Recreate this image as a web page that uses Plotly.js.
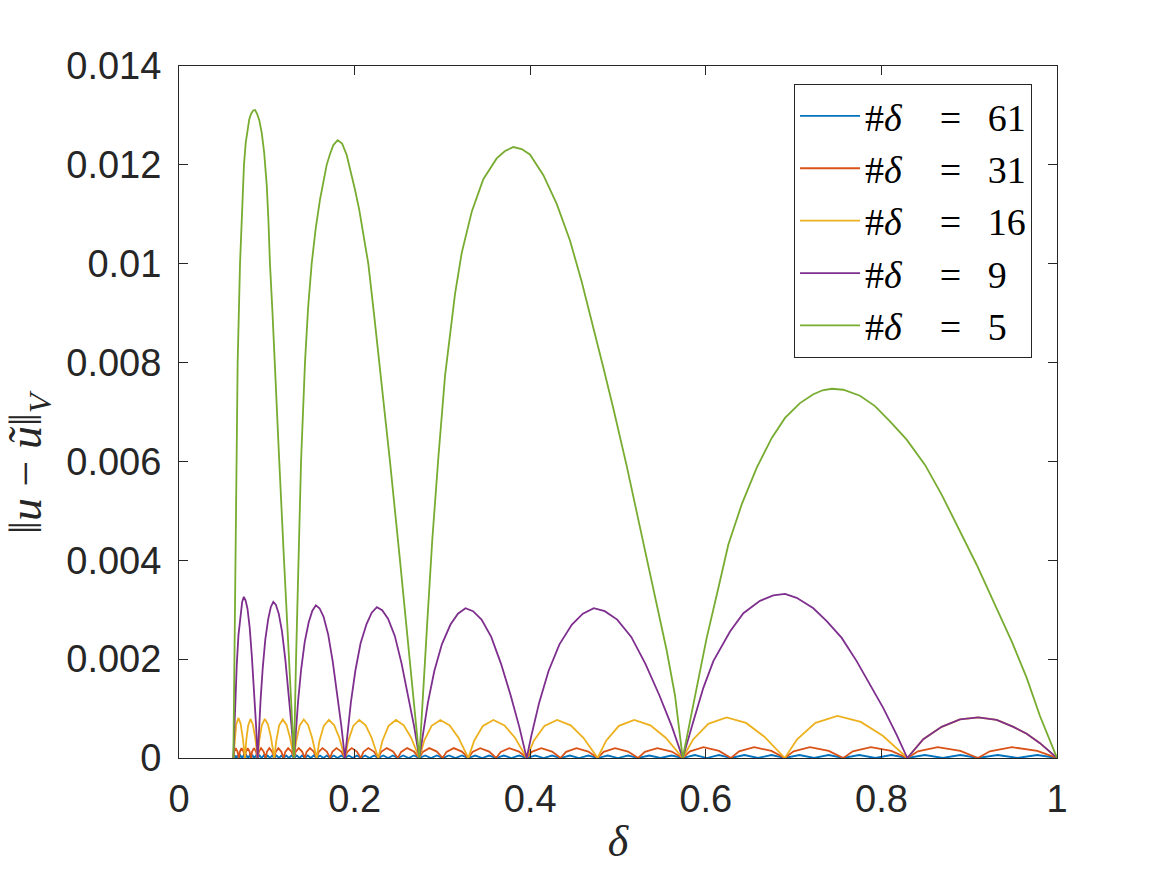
<!DOCTYPE html>
<html>
<head>
<meta charset="utf-8">
<script src="https://cdn.plot.ly/plotly-3.0.1.min.js"></script>
<style>html,body{margin:0;padding:0;background:#fff;}#chart{width:1167px;height:875px;}</style>
</head>
<body>
<div id="chart"></div>
<script>
// ---- data ----
const seriesNames = [
  '#<i>δ</i>\u2003=\u2002\u200961',
  '#<i>δ</i>\u2003=\u2002\u200931',
  '#<i>δ</i>\u2003=\u2002\u200916',
  '#<i>δ</i>\u2003=\u2002\u20099',
  '#<i>δ</i>\u2003=\u2002\u20095'
];
const seriesColors = ['#0072BD', '#D95319', '#EDB120', '#7E2F8E', '#77AC30'];

const xTickVals = [0, 0.2, 0.4, 0.6, 0.8, 1];
const xTickText = ['0', '0.2', '0.4', '0.6', '0.8', '1'];
const yTickVals = [0, 0.002, 0.004, 0.006, 0.008, 0.010, 0.012, 0.014];
const yTickText = ['0', '0.002', '0.004', '0.006', '0.008', '0.01', '0.012', '0.014'];

// #delta = 5 (green)
const delta5 = [
  0.0619, 0.0632, 0.0646, 0.0656, 0.0668, 0.0695, 0.0718, 0.0740, 0.0760, 0.0778, 0.0800, 0.0820, 0.0845, 0.0866, 0.0890, 0.0915, 0.0942, 0.0970, 0.0999, 0.1018, 0.1036, 0.1065, 0.1093, 0.1142, 0.1196, 0.1249, 0.131,
  0.1333, 0.1359, 0.1390, 0.1435, 0.1470, 0.1511, 0.1556, 0.1606, 0.1645, 0.1682, 0.1720, 0.1758, 0.1807, 0.1858, 0.1910, 0.1957, 0.2004, 0.2052, 0.2099, 0.2156, 0.2220, 0.2282, 0.2343, 0.2403, 0.2517, 0.2631, 0.2737,
  0.2828, 0.2885, 0.2954, 0.3030, 0.3144, 0.3220, 0.3334, 0.3466, 0.3618, 0.3713, 0.3808, 0.3903, 0.3997, 0.4150, 0.4302, 0.4453, 0.4586, 0.4719, 0.4833, 0.4947, 0.5099, 0.5250, 0.5402, 0.5554, 0.5649, 0.5737,
  0.5858, 0.6010, 0.6143, 0.6257, 0.6409, 0.6579, 0.6750, 0.6902, 0.7073, 0.7225, 0.7330, 0.7434, 0.7566, 0.7756, 0.7927, 0.8098, 0.8288, 0.8497, 0.8686, 0.8876, 0.9085, 0.9294, 0.9484, 0.9655, 0.9806, 1.0
];
const err5 = [
  0, 0.0020, 0.0040, 0.0060, 0.0080, 0.0100, 0.0112, 0.0120, 0.01245, 0.01270, 0.01292, 0.01303, 0.01310, 0.01311, 0.01303, 0.01290, 0.01265, 0.01225, 0.0116, 0.0109, 0.0100, 0.0090, 0.0080, 0.0060, 0.0040, 0.0020, 0,
  0.0020, 0.0040, 0.0060, 0.0080, 0.0091, 0.0100, 0.0107, 0.0113, 0.01170, 0.0120, 0.01222, 0.01240, 0.0125, 0.01243, 0.0122, 0.01188, 0.0115, 0.0111, 0.0106, 0.0100, 0.0090, 0.0080, 0.0070, 0.0060, 0.0040, 0.0020, 0,
  0.00276, 0.00442, 0.00608, 0.00773, 0.00939, 0.01022, 0.01105, 0.01171, 0.01213, 0.01228, 0.01236, 0.01232, 0.01221, 0.01179, 0.01121, 0.01047, 0.00964, 0.00873, 0.00790, 0.00707, 0.00591, 0.00467, 0.00342, 0.00218, 0.00127, 0,
  0.00108, 0.00243, 0.00344, 0.00432, 0.00513, 0.00587, 0.00647, 0.00688, 0.00718, 0.00736, 0.00744, 0.00747, 0.00745, 0.00733, 0.00712, 0.00681, 0.00644, 0.00593, 0.00533, 0.00465, 0.00391, 0.00310, 0.00236, 0.00162, 0.00085, 0
];

// #delta = 9 (purple)
const delta9 = [
  0.0619, 0.0627, 0.0641, 0.0658, 0.0677, 0.0699, 0.0719, 0.0738, 0.0758, 0.0780, 0.0805, 0.0830, 0.0855, 0.0877, 0.0896,
  0.0908, 0.0929, 0.0954, 0.0983, 0.1016, 0.1045, 0.1074, 0.1103, 0.1136, 0.1173, 0.1211, 0.1248, 0.1281, 0.131,
  0.1327, 0.1356, 0.1391, 0.1432, 0.1478, 0.1519, 0.1559, 0.1600, 0.1646, 0.1699, 0.1751, 0.1803, 0.1849, 0.189,
  0.1915, 0.1958, 0.2009, 0.2068, 0.2136, 0.2195, 0.2254, 0.2314, 0.2381, 0.2458, 0.2534, 0.2610, 0.2678, 0.2737,
  0.2774, 0.2835, 0.2908, 0.2994, 0.3092, 0.3177, 0.3263, 0.3349, 0.3446, 0.3556, 0.3667, 0.3777, 0.3874, 0.396,
  0.4013, 0.4102, 0.4209, 0.4333, 0.4475, 0.4600, 0.4724, 0.4849, 0.4991, 0.5151, 0.5311, 0.5471, 0.5613, 0.5737,
  0.5858, 0.5972, 0.6086, 0.6276, 0.6428, 0.6617, 0.6769, 0.6902, 0.7035, 0.7225, 0.7377, 0.7548, 0.7718, 0.7870, 0.8022, 0.8174, 0.8295,
  0.8477, 0.8686, 0.8895, 0.9104, 0.9313, 0.9503, 0.9655, 0.9806, 1.0
];
const err9 = [
  0, 0.00049, 0.00121, 0.00189, 0.00248, 0.00290, 0.00315, 0.00326, 0.00319, 0.00302, 0.00264, 0.00205, 0.00137, 0.00068, 0,
  0.00047, 0.00117, 0.00183, 0.00240, 0.00281, 0.00305, 0.00316, 0.00310, 0.00292, 0.00256, 0.00199, 0.00133, 0.00066, 0,
  0.00046, 0.00114, 0.00179, 0.00235, 0.00275, 0.00298, 0.00309, 0.00303, 0.00286, 0.00250, 0.00195, 0.00130, 0.00065, 0,
  0.00046, 0.00113, 0.00177, 0.00232, 0.00271, 0.00294, 0.00305, 0.00299, 0.00282, 0.00247, 0.00192, 0.00128, 0.00064, 0,
  0.00045, 0.00112, 0.00176, 0.00230, 0.00270, 0.00292, 0.00303, 0.00297, 0.00280, 0.00245, 0.00191, 0.00127, 0.00064, 0,
  0.00045, 0.00112, 0.00176, 0.00230, 0.00270, 0.00292, 0.00303, 0.00297, 0.00280, 0.00245, 0.00191, 0.00127, 0.00064, 0,
  0.00074, 0.00142, 0.00196, 0.00256, 0.00293, 0.00318, 0.00329, 0.00332, 0.00324, 0.00303, 0.00277, 0.00243, 0.00196, 0.00148, 0.00101, 0.00047, 0,
  0.00038, 0.00063, 0.00078, 0.00082, 0.00077, 0.00063, 0.00049, 0.00030, 0
];

// #delta = 16 (yellow)
const delta16 = [
  0.0619, 0.0632, 0.0652, 0.0676, 0.0701, 0.0725, 0.0752,
  0.0766, 0.0788, 0.0814, 0.0841, 0.0867, 0.0896,
  0.0915, 0.0943, 0.0977, 0.1013, 0.1047, 0.1085,
  0.1108, 0.1141, 0.1182, 0.1225, 0.1265, 0.131,
  0.1336, 0.1375, 0.1421, 0.1470, 0.1516, 0.1568,
  0.1600, 0.1649, 0.1707, 0.1768, 0.1826, 0.189,
  0.1928, 0.1985, 0.2053, 0.2126, 0.2194, 0.227,
  0.2317, 0.2387, 0.2471, 0.2560, 0.2644, 0.2737,
  0.2793, 0.2877, 0.2977, 0.3083, 0.3183, 0.3295,
  0.3362, 0.3461, 0.3581, 0.3707, 0.3827, 0.396,
  0.4041, 0.4162, 0.4307, 0.4461, 0.4606, 0.4768,
  0.4865, 0.5010, 0.5185, 0.5369, 0.5543, 0.5737,
  0.5853, 0.6028, 0.6237, 0.6458, 0.6667, 0.690,
  0.7040, 0.7249, 0.7500, 0.7765, 0.8016, 0.8295,
  0.8477, 0.8686, 0.8895, 0.9104, 0.9313, 0.9503, 0.9655, 0.9806, 1.0
];
const err16 = [
  0, 0.00036, 0.00068, 0.00081, 0.00070, 0.00043, 0,
  0.00036, 0.00066, 0.00079, 0.00068, 0.00042, 0,
  0.00036, 0.00066, 0.00079, 0.00068, 0.00042, 0,
  0.00035, 0.00066, 0.00078, 0.00067, 0.00041, 0,
  0.00035, 0.00066, 0.00078, 0.00067, 0.00041, 0,
  0.00035, 0.00065, 0.00077, 0.00066, 0.00041, 0,
  0.00035, 0.00065, 0.00077, 0.00066, 0.00041, 0,
  0.00035, 0.00065, 0.00077, 0.00066, 0.00041, 0,
  0.00035, 0.00065, 0.00077, 0.00066, 0.00041, 0,
  0.00035, 0.00065, 0.00077, 0.00066, 0.00041, 0,
  0.00035, 0.00065, 0.00077, 0.00066, 0.00041, 0,
  0.00035, 0.00065, 0.00077, 0.00066, 0.00041, 0,
  0.00037, 0.00069, 0.00082, 0.00071, 0.00043, 0,
  0.00038, 0.00071, 0.00085, 0.00073, 0.00045, 0,
  0.00038, 0.00063, 0.00078, 0.00082, 0.00077, 0.00063, 0.00049, 0.00030, 0
];

// #delta = 31 (red)
const delta31 = [
  0.0619, 0.0628, 0.0646, 0.0666, 0.0682, 0.0693, 0.0712, 0.0735, 0.0752, 0.0762, 0.0782, 0.0804,
  0.0821, 0.0832, 0.0853, 0.0877, 0.0896, 0.0910, 0.0935, 0.0964, 0.0986, 0.1001, 0.1029, 0.1060,
  0.1085, 0.1101, 0.1131, 0.1165, 0.1192, 0.1210, 0.1243, 0.1281, 0.131, 0.1328, 0.1363, 0.1402,
  0.1433, 0.1453, 0.1491, 0.1534, 0.1568, 0.1591, 0.1634, 0.1683, 0.1721, 0.1746, 0.1794, 0.1848,
  0.189, 0.1917, 0.1968, 0.2026, 0.2071, 0.2101, 0.2157, 0.2220, 0.227, 0.2303, 0.2366, 0.2437,
  0.2493, 0.2530, 0.2598, 0.2676, 0.2737, 0.2777, 0.2851, 0.2937, 0.3003, 0.3047, 0.3129, 0.3222,
  0.3295, 0.3343, 0.3431, 0.3533, 0.3612, 0.3664, 0.3762, 0.3873, 0.396, 0.4018, 0.4126, 0.4249,
  0.4345, 0.4409, 0.4527, 0.4662, 0.4768, 0.4837, 0.4967, 0.5115, 0.523, 0.5306, 0.5448, 0.5610,
  0.5737, 0.5820, 0.5974, 0.6150, 0.6287, 0.6379, 0.6551, 0.6747, 0.690, 0.7000, 0.7186, 0.7400,
  0.7566, 0.7675, 0.7880, 0.8113, 0.8295, 0.8416, 0.8641, 0.8899, 0.910, 0.9235, 0.9487, 0.9775, 1.0
];
const err31 = [
  0, 0.000124, 0.0002, 0.00013, 0, 0.000124, 0.0002, 0.00013, 0, 0.000124, 0.0002, 0.00013,
  0, 0.000124, 0.0002, 0.00013, 0, 0.000124, 0.0002, 0.00013, 0, 0.000124, 0.0002, 0.00013,
  0, 0.000124, 0.0002, 0.00013, 0, 0.000124, 0.0002, 0.00013, 0, 0.000124, 0.0002, 0.00013,
  0, 0.000124, 0.0002, 0.00013, 0, 0.000124, 0.0002, 0.00013, 0, 0.000124, 0.0002, 0.00013,
  0, 0.000124, 0.0002, 0.00013, 0, 0.000124, 0.0002, 0.00013, 0, 0.000124, 0.0002, 0.00013,
  0, 0.000124, 0.0002, 0.00013, 0, 0.000124, 0.0002, 0.00013, 0, 0.000124, 0.0002, 0.00013,
  0, 0.000124, 0.0002, 0.00013, 0, 0.000124, 0.0002, 0.00013, 0, 0.000124, 0.0002, 0.00013,
  0, 0.000124, 0.0002, 0.00013, 0, 0.000124, 0.0002, 0.00013, 0, 0.000124, 0.0002, 0.00013,
  0, 0.000136, 0.00022, 0.000143, 0, 0.000136, 0.00022, 0.000143, 0, 0.000136, 0.00022, 0.000143,
  0, 0.000136, 0.00022, 0.000143, 0, 0.000136, 0.00022, 0.000143, 0, 0.000136, 0.00022, 0.000143, 0
];

// #delta = 61 (blue)
const delta61 = [
  0.0619, 0.0635, 0.0651, 0.0666, 0.0682, 0.0700, 0.0717, 0.0735, 0.0752, 0.0769, 0.0787, 0.0804,
  0.0821, 0.0840, 0.0859, 0.0877, 0.0896, 0.0919, 0.0941, 0.0964, 0.0986, 0.1011, 0.1036, 0.1060,
  0.1085, 0.1112, 0.1139, 0.1165, 0.1192, 0.1222, 0.1251, 0.1281, 0.131, 0.1341, 0.1372, 0.1402,
  0.1433, 0.1467, 0.1501, 0.1534, 0.1568, 0.1606, 0.1645, 0.1683, 0.1721, 0.1763, 0.1806, 0.1848,
  0.189, 0.1935, 0.1981, 0.2026, 0.2071, 0.2121, 0.2171, 0.2220, 0.227, 0.2326, 0.2382, 0.2437,
  0.2493, 0.2554, 0.2615, 0.2676, 0.2737, 0.2804, 0.2870, 0.2937, 0.3003, 0.3076, 0.3149, 0.3222,
  0.3295, 0.3374, 0.3454, 0.3533, 0.3612, 0.3699, 0.3786, 0.3873, 0.396, 0.4056, 0.4153, 0.4249,
  0.4345, 0.4451, 0.4557, 0.4662, 0.4768, 0.4884, 0.4999, 0.5115, 0.523, 0.5357, 0.5484, 0.5610,
  0.5737, 0.5875, 0.6012, 0.6150, 0.6287, 0.6440, 0.6594, 0.6747, 0.690, 0.7067, 0.7233, 0.7400,
  0.7566, 0.7748, 0.7931, 0.8113, 0.8295, 0.8496, 0.8698, 0.8899, 0.910, 0.9325, 0.9550, 0.9775, 1.0
];
const err61 = [
  0, 0.00005, 0, 0.00005, 0, 0.00005, 0, 0.00005, 0, 0.00005, 0, 0.00005,
  0, 0.00005, 0, 0.00005, 0, 0.00005, 0, 0.00005, 0, 0.00005, 0, 0.00005,
  0, 0.00005, 0, 0.00005, 0, 0.00005, 0, 0.00005, 0, 0.00005, 0, 0.00005,
  0, 0.00005, 0, 0.00005, 0, 0.00005, 0, 0.00005, 0, 0.00005, 0, 0.00005,
  0, 0.00005, 0, 0.00005, 0, 0.00005, 0, 0.00005, 0, 0.00005, 0, 0.00005,
  0, 0.00005, 0, 0.00005, 0, 0.00005, 0, 0.00005, 0, 0.00005, 0, 0.00005,
  0, 0.00005, 0, 0.00005, 0, 0.00005, 0, 0.00005, 0, 0.00005, 0, 0.00005,
  0, 0.00005, 0, 0.00005, 0, 0.00005, 0, 0.00005, 0, 0.00005, 0, 0.00005,
  0, 0.00006, 0, 0.00006, 0, 0.00006, 0, 0.00006, 0, 0.00006, 0, 0.00006,
  0, 0.00006, 0, 0.00006, 0, 0.00006, 0, 0.00006, 0, 0.00006, 0, 0.00006, 0
];

const xs = [delta61, delta31, delta16, delta9, delta5];
const ys = [err61, err31, err16, err9, err5];

const traces = xs.map((x, i) => ({
  type: 'scatter', mode: 'lines',
  x: x, y: ys[i],
  name: seriesNames[i],
  line: {color: seriesColors[i], width: 1.8},
  hoverinfo: 'skip'
}));

const axisCommon = {
  ticks: 'inside', ticklen: 9, tickwidth: 1, tickcolor: '#262626',
  showline: true, linecolor: '#262626', linewidth: 1, mirror: 'allticks',
  showgrid: false, zeroline: false, automargin: false,
  tickfont: {family: 'Liberation Sans, Arial, sans-serif', size: 38, color: '#262626'}
};

const layout = {
  width: 1167, height: 875,
  margin: {l: 179, r: 110, t: 66, b: 117, pad: 0},
  paper_bgcolor: '#ffffff', plot_bgcolor: '#ffffff',
  showlegend: true,
  xaxis: Object.assign({}, axisCommon, {
    range: [0, 1], tickmode: 'array', tickvals: xTickVals, ticktext: xTickText,
    ticklabelstandoff: 7,
    title: {text: '<i>δ</i>', font: {family: 'Liberation Serif, serif', size: 44, color: '#262626'}, standoff: 6}
  }),
  yaxis: Object.assign({}, axisCommon, {
    range: [0, 0.014], tickmode: 'array', tickvals: yTickVals, ticktext: yTickText,
    ticklabelstandoff: 9,
    title: {text: '‖<i>u</i> − <i>ũ</i>‖<sub><i>V</i></sub>\u2003\u2003\u00a0\u200b', font: {family: 'Liberation Serif, serif', size: 46, color: '#262626'}, standoff: 14}
  }),
  legend: {
    x: 0.7005, y: 0.9745, xanchor: 'left', yanchor: 'top',
    bgcolor: '#ffffff', bordercolor: '#262626', borderwidth: 1,
    font: {family: 'Liberation Serif, serif', size: 38, color: '#000000'},
    itemwidth: 60, tracegroupgap: 0
  }
};

Plotly.newPlot('chart', traces, layout, {displayModeBar: false, staticPlot: true});
</script>
</body>
</html>
